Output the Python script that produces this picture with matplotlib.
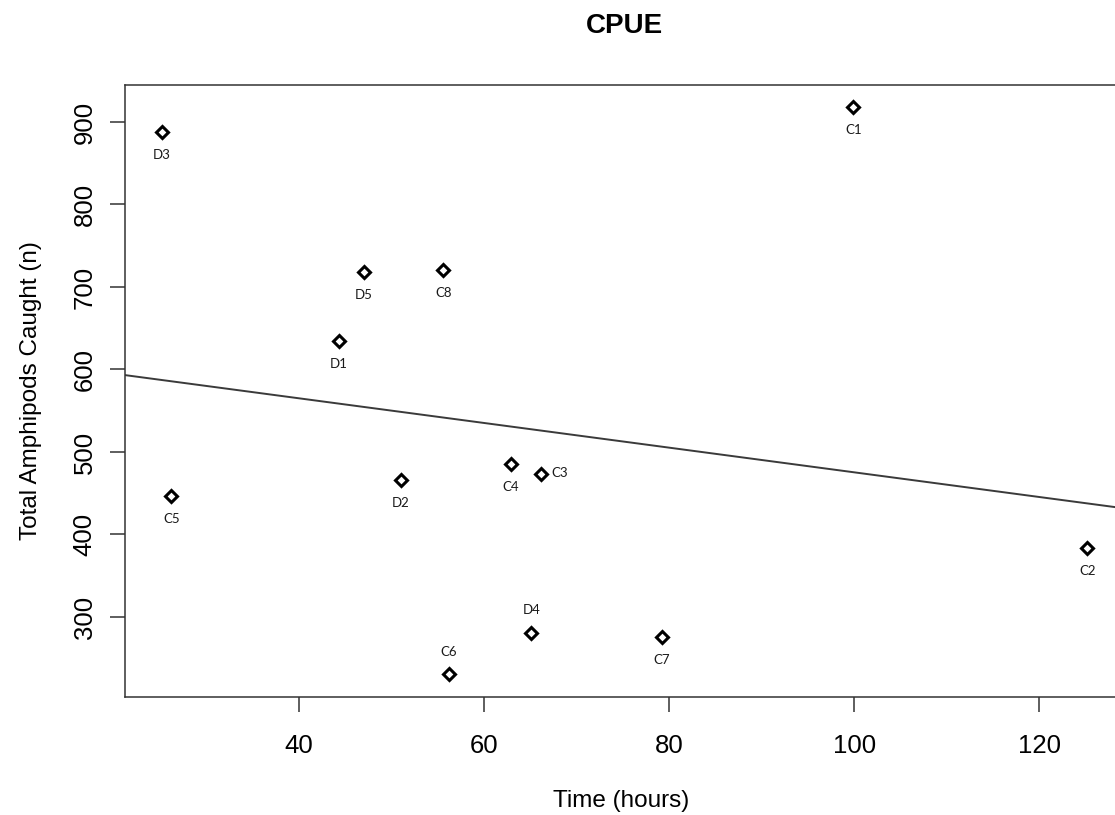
import matplotlib
matplotlib.use("Agg")
import matplotlib.pyplot as plt
import numpy as np

# data
sites = ["C1", "D3", "D5", "C8", "D1", "C5", "D2", "C4", "C3", "C2", "D4", "C6", "C7"]
hours = [99.9, 25.2, 47.0, 55.6, 44.3, 26.2, 51.0, 62.9, 66.1, 125.2, 65.1, 56.2, 79.2]
amphipods = [918, 888, 718, 721, 634, 447, 466, 485, 473, 383, 281, 231, 276]
# where each label sits relative to its point (R text pos: 1 below, 3 above, 4 right)
label_pos = [1, 1, 1, 1, 1, 1, 1, 1, 4, 1, 3, 3, 1]

x_ticks = [40, 60, 80, 100, 120]
y_ticks = [300, 400, 500, 600, 700, 800, 900]

plt.rcParams['font.family'] = ['Liberation Sans', 'DejaVu Sans']

fig = plt.figure(figsize=(11.15, 8.15), dpi=100)
ax = fig.add_axes([125/1115, 118/815, 993/1115, 612/815])

x = np.array(hours)
y = np.array(amphipods)

# linear fit, drawn across the full axis like abline()
slope, intercept = np.polyfit(x, y, 1)
xl = np.array([0, 200])
ax.plot(xl, intercept + slope*xl, color="#3a3a3a", lw=1.4, zorder=1)

ax.plot(x, y, linestyle="none", marker="D", ms=6, mfc="white", mec="black", mew=2.2, zorder=3)

offsets = {1: (0, -16.5, "center", "center"),
           3: (0, 16, "center", "center"),
           4: (8, 1, "left", "center")}
for name, xi, yi, p in zip(sites, hours, amphipods, label_pos):
    dx, dy, ha, va = offsets[p]
    ax.annotate(name, (xi, yi), xytext=(dx, dy), textcoords="offset points",
                ha=ha, va=va, fontsize=9.5, family="Lato", color="#1a1a1a")

ax.set_xlim(21.19, 128.5)
ax.set_ylim(203, 944.8)
ax.set_xticks(x_ticks)
ax.set_yticks(y_ticks)
ax.tick_params(axis="both", length=10.5, width=1.1, color="#333333", labelsize=18.5)
ax.tick_params(axis="x", pad=16)
ax.tick_params(axis="y", pad=10)
for lab in ax.get_yticklabels():
    lab.set_rotation(90)
    lab.set_va("center")
for s in ax.spines.values():
    s.set_color("#333333")
    s.set_linewidth(1.1)

ax.set_xlabel("Time (hours)", fontsize=17.5, labelpad=23)
ax.set_ylabel("Total Amphipods Caught (n)", fontsize=17.5, labelpad=22)
fig.text(624/1115, 1 - 26/815, "CPUE", ha="center", va="center", fontsize=20, fontweight="bold")

fig.savefig("out.png", dpi=100)
